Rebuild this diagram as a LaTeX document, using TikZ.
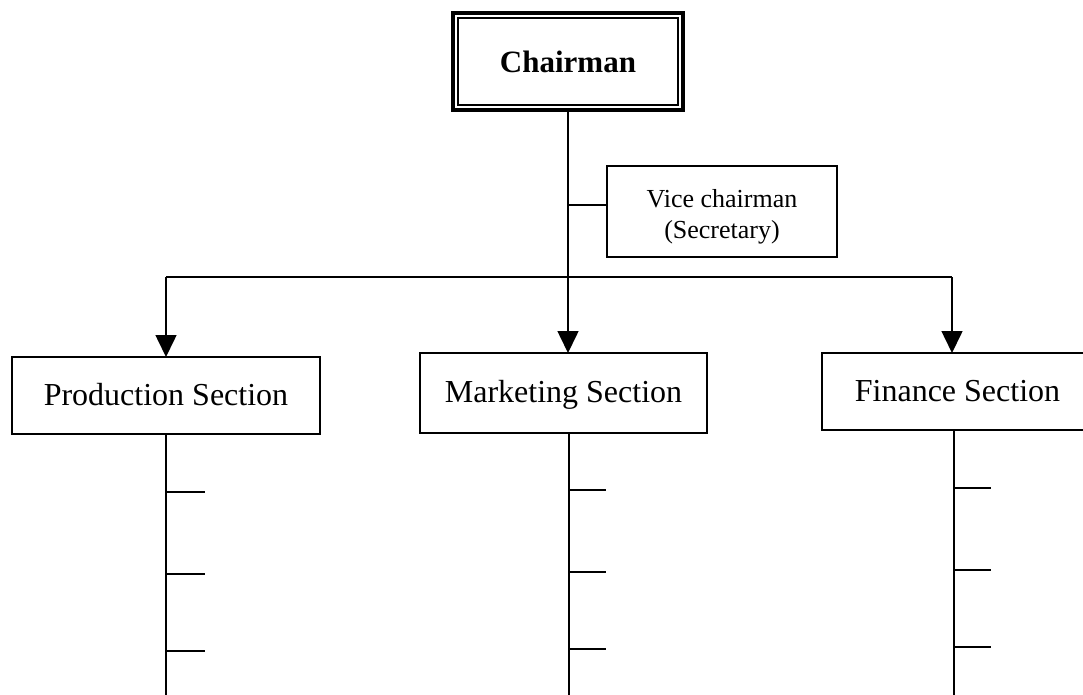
\documentclass[tikz,border=0pt]{standalone}
\usepackage{fontspec}
\setmainfont{Liberation Serif}
\usetikzlibrary{arrows.meta}
\tikzset{
  secbox/.style={draw, line width=2pt, outer sep=0pt, inner sep=0pt, align=center,
    text height=24pt, text depth=5pt,
    font=\fontsize{32}{38}\selectfont},
  conn/.style={line width=1.6pt},
  arr/.style={conn, -{Triangle[width=21pt,length=22pt]}},
  tick/.style={line width=2pt}
}
\begin{document}
\begin{tikzpicture}[x=1pt,y=-1pt]
\clip (0,0) rectangle (1083,695);
\fill[white] (0,0) rectangle (1083,695);

% Chairman
\node[draw, line width=4pt, outer sep=0pt, inner sep=0pt,
      minimum width=230pt, minimum height=97pt,
      font=\fontsize{31}{36}\selectfont\bfseries] (ch) at (568,61.5) {Chairman};
\draw[line width=1.5pt] ([shift={(5pt,-5pt)}]ch.north west) rectangle ([shift={(-5pt,5pt)}]ch.south east);

% Vice chairman
\node[draw, line width=1.8pt, outer sep=0pt, inner sep=0pt,
      minimum width=230pt, minimum height=91pt] (vc) at (722,211.5) {};
\node[inner sep=0pt, align=center, font=\fontsize{26}{31}\selectfont]
      (vct) at ([yshift=-4.8pt]vc.center) {Vice chairman\\(Secretary)};

% Sections
\node[secbox, minimum width=308pt, minimum height=77pt] (prod) at (166,395.5) {Production Section};
\node[secbox, minimum width=287pt, minimum height=80pt] (mkt) at (563.5,393) {Marketing Section};
\node[secbox, minimum width=271pt, minimum height=77pt] (fin) at (957.5,391.5) {Finance Section};

% hub coordinates
\coordinate (lft) at (166,277);
\coordinate (rgt) at (952,277);
\coordinate (vcin) at ([yshift=6.5pt]vc.west);

% connectors
\draw[arr] (ch.south) -- (ch.south |- mkt.north);
\draw[conn] (vcin) -- (ch.south |- vcin);
\draw[conn] (lft) -- (rgt);
\draw[arr] (lft) -- (prod.north);
\draw[arr] (rgt) -- (rgt |- fin.north);

% sub lines
\coordinate (pb) at (166,695);
\coordinate (mb) at (569,695);
\coordinate (fb) at (954,695);
\draw[conn] (prod.south) -- (pb);
\draw[conn] (569,433) -- (mb);
\draw[conn] (954,430) -- (fb);

\foreach \y in {492,574,651} \draw[tick] (166,\y) -- (205,\y);
\foreach \y in {490,572,649} \draw[tick] (569,\y) -- (606,\y);
\foreach \y in {488,570,647} \draw[tick] (954,\y) -- (991,\y);
\end{tikzpicture}
\end{document}
